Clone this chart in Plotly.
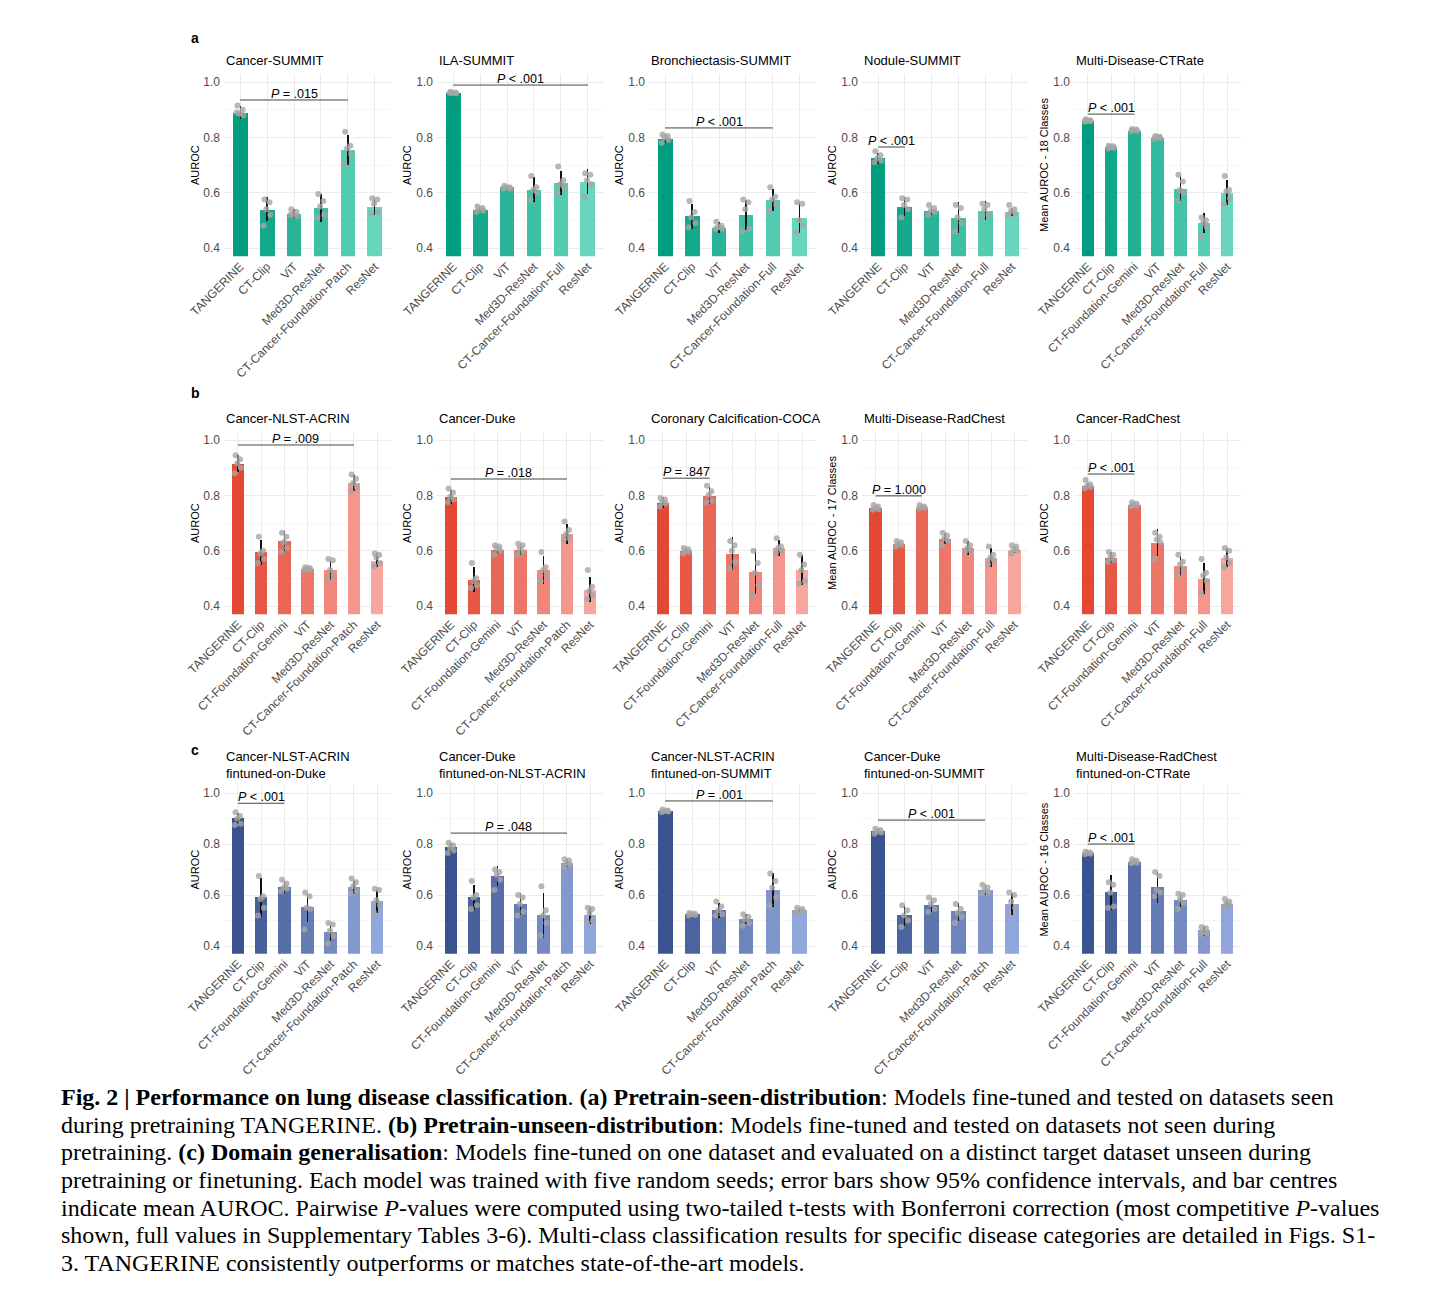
import plotly.graph_objects as go

# ---------------- model sets (categories) ----------------
M6P = ["TANGERINE", "CT-Clip", "ViT", "Med3D-ResNet", "CT-Cancer-Foundation-Patch", "ResNet"]
M6F = ["TANGERINE", "CT-Clip", "ViT", "Med3D-ResNet", "CT-Cancer-Foundation-Full", "ResNet"]
M7P = ["TANGERINE", "CT-Clip", "CT-Foundation-Gemini", "ViT", "Med3D-ResNet", "CT-Cancer-Foundation-Patch", "ResNet"]
M7F = ["TANGERINE", "CT-Clip", "CT-Foundation-Gemini", "ViT", "Med3D-ResNet", "CT-Cancer-Foundation-Full", "ResNet"]

# ---------------- titles / p-values ----------------
TITLES = [
    "Cancer-SUMMIT", "ILA-SUMMIT", "Bronchiectasis-SUMMIT", "Nodule-SUMMIT", "Multi-Disease-CTRate",
    "Cancer-NLST-ACRIN", "Cancer-Duke", "Coronary Calcification-COCA", "Multi-Disease-RadChest", "Cancer-RadChest",
    "Cancer-NLST-ACRIN<br>fintuned-on-Duke", "Cancer-Duke<br>fintuned-on-NLST-ACRIN",
    "Cancer-NLST-ACRIN<br>fintuned-on-SUMMIT", "Cancer-Duke<br>fintuned-on-SUMMIT",
    "Multi-Disease-RadChest<br>fintuned-on-CTRate",
]
YTITLES = ["AUROC", "AUROC", "AUROC", "AUROC", "Mean AUROC - 18 Classes",
           "AUROC", "AUROC", "AUROC", "Mean AUROC - 17 Classes", "AUROC",
           "AUROC", "AUROC", "AUROC", "AUROC", "Mean AUROC - 16 Classes"]
P_LABELS = ["= .015", "< .001", "< .001", "< .001", "< .001",
            "= .009", "= .018", "= .847", "= 1.000", "< .001",
            "< .001", "= .048", "= .001", "< .001", "< .001"]
P_TARGET = ["CT-Cancer-Foundation-Patch", "ResNet", "CT-Cancer-Foundation-Full", "CT-Clip", "CT-Foundation-Gemini",
            "CT-Cancer-Foundation-Patch", "CT-Cancer-Foundation-Patch", "CT-Foundation-Gemini", "CT-Foundation-Gemini", "CT-Foundation-Gemini",
            "CT-Foundation-Gemini", "CT-Cancer-Foundation-Patch", "CT-Cancer-Foundation-Patch", "CT-Cancer-Foundation-Patch", "CT-Foundation-Gemini"]
P_LEVEL = [0.935, 0.989, 0.834, 0.765, 0.884,
           0.982, 0.859, 0.862, 0.798, 0.877,
           0.960, 0.843, 0.969, 0.894, 0.800]

# ---------------- row a ----------------
MEAN_A1 = [0.89, 0.54, 0.525, 0.545, 0.755, 0.55]
CI_A1 = [0.022, 0.043, 0.015, 0.05, 0.055, 0.03]
SEEDS_A1 = [[0.915, 0.90, 0.885, 0.88, 0.89], [0.575, 0.565, 0.54, 0.52, 0.48], [0.54, 0.53, 0.52, 0.515, 0.52],
            [0.595, 0.57, 0.55, 0.52, 0.51], [0.82, 0.77, 0.76, 0.74, 0.705], [0.58, 0.575, 0.56, 0.53, 0.525]]

MEAN_A2 = [0.96, 0.54, 0.62, 0.61, 0.635, 0.64]
CI_A2 = [0.005, 0.01, 0.005, 0.045, 0.045, 0.045]
SEEDS_A2 = [[0.965, 0.962, 0.96, 0.958, 0.96], [0.55, 0.545, 0.54, 0.535, 0.53], [0.625, 0.62, 0.62, 0.615, 0.615],
            [0.66, 0.62, 0.61, 0.60, 0.575], [0.695, 0.645, 0.63, 0.62, 0.60], [0.67, 0.665, 0.645, 0.63, 0.585]]

MEAN_A3 = [0.795, 0.515, 0.475, 0.52, 0.575, 0.51]
CI_A3 = [0.015, 0.045, 0.02, 0.055, 0.04, 0.055]
SEEDS_A3 = [[0.81, 0.805, 0.80, 0.79, 0.78], [0.57, 0.53, 0.51, 0.49, 0.475], [0.495, 0.48, 0.475, 0.47, 0.47],
            [0.575, 0.565, 0.54, 0.47, 0.46], [0.62, 0.585, 0.575, 0.555, 0.535], [0.565, 0.56, 0.50, 0.48, 0.455]]

MEAN_A4 = [0.725, 0.55, 0.535, 0.51, 0.535, 0.53]
CI_A4 = [0.02, 0.035, 0.015, 0.055, 0.035, 0.015]
SEEDS_A4 = [[0.75, 0.735, 0.725, 0.715, 0.71], [0.58, 0.575, 0.555, 0.54, 0.51], [0.555, 0.545, 0.535, 0.53, 0.52],
            [0.555, 0.545, 0.51, 0.49, 0.46], [0.56, 0.555, 0.54, 0.52, 0.51], [0.555, 0.54, 0.535, 0.525, 0.52]]

MEAN_A5 = [0.86, 0.765, 0.825, 0.80, 0.615, 0.49, 0.60]
CI_A5 = [0.005, 0.005, 0.004, 0.005, 0.045, 0.035, 0.045]
SEEDS_A5 = [[0.865, 0.862, 0.86, 0.858, 0.856], [0.77, 0.768, 0.765, 0.762, 0.76], [0.83, 0.828, 0.826, 0.824, 0.822],
            [0.805, 0.802, 0.80, 0.798, 0.795], [0.665, 0.64, 0.61, 0.60, 0.57], [0.51, 0.50, 0.49, 0.475, 0.44],
            [0.66, 0.61, 0.605, 0.58, 0.56]]

# ---------------- row b ----------------
MEAN_B1 = [0.915, 0.595, 0.635, 0.535, 0.53, 0.845, 0.565]
CI_B1 = [0.03, 0.045, 0.035, 0.005, 0.035, 0.03, 0.025]
SEEDS_B1 = [[0.945, 0.93, 0.915, 0.90, 0.88], [0.65, 0.60, 0.59, 0.57, 0.555], [0.665, 0.65, 0.63, 0.61, 0.595],
            [0.54, 0.537, 0.535, 0.533, 0.53], [0.57, 0.565, 0.53, 0.51, 0.495], [0.875, 0.86, 0.845, 0.83, 0.815],
            [0.59, 0.585, 0.575, 0.555, 0.545]]

MEAN_B2 = [0.795, 0.495, 0.605, 0.605, 0.53, 0.66, 0.46]
CI_B2 = [0.025, 0.045, 0.015, 0.02, 0.05, 0.035, 0.045]
SEEDS_B2 = [[0.825, 0.81, 0.795, 0.785, 0.775], [0.555, 0.50, 0.49, 0.475, 0.465], [0.62, 0.615, 0.61, 0.60, 0.585],
            [0.625, 0.62, 0.61, 0.595, 0.585], [0.595, 0.54, 0.53, 0.51, 0.49], [0.705, 0.675, 0.66, 0.645, 0.64],
            [0.53, 0.47, 0.455, 0.44, 0.425]]

MEAN_B3 = [0.775, 0.60, 0.80, 0.59, 0.525, 0.61, 0.53]
CI_B3 = [0.02, 0.01, 0.03, 0.06, 0.08, 0.03, 0.055]
SEEDS_B3 = [[0.79, 0.785, 0.775, 0.77, 0.76], [0.61, 0.605, 0.60, 0.595, 0.59], [0.835, 0.815, 0.80, 0.78, 0.775],
            [0.635, 0.62, 0.60, 0.56, 0.535], [0.60, 0.555, 0.52, 0.475, 0.44], [0.645, 0.615, 0.61, 0.60, 0.59],
            [0.585, 0.55, 0.53, 0.49, 0.48]]

MEAN_B4 = [0.755, 0.625, 0.755, 0.645, 0.61, 0.575, 0.605]
CI_B4 = [0.008, 0.008, 0.005, 0.02, 0.025, 0.035, 0.015]
SEEDS_B4 = [[0.765, 0.76, 0.755, 0.75, 0.748], [0.635, 0.63, 0.625, 0.62, 0.615], [0.765, 0.76, 0.757, 0.755, 0.752],
            [0.665, 0.655, 0.645, 0.635, 0.62], [0.635, 0.62, 0.61, 0.60, 0.595], [0.615, 0.585, 0.575, 0.565, 0.55],
            [0.62, 0.615, 0.605, 0.60, 0.59]]

MEAN_B5 = [0.835, 0.575, 0.765, 0.63, 0.545, 0.50, 0.575]
CI_B5 = [0.01, 0.02, 0.005, 0.05, 0.035, 0.055, 0.035]
SEEDS_B5 = [[0.855, 0.84, 0.835, 0.83, 0.825], [0.595, 0.585, 0.575, 0.565, 0.56], [0.775, 0.77, 0.765, 0.762, 0.76],
            [0.665, 0.65, 0.64, 0.63, 0.57], [0.585, 0.56, 0.55, 0.53, 0.51], [0.57, 0.52, 0.51, 0.49, 0.45],
            [0.61, 0.60, 0.575, 0.555, 0.54]]

# ---------------- row c ----------------
MEAN_C1 = [0.90, 0.59, 0.63, 0.55, 0.455, 0.63, 0.575]
CI_C1 = [0.02, 0.075, 0.02, 0.055, 0.035, 0.025, 0.045]
SEEDS_C1 = [[0.925, 0.91, 0.90, 0.88, 0.875], [0.675, 0.595, 0.585, 0.55, 0.52], [0.66, 0.645, 0.63, 0.625, 0.615],
            [0.61, 0.595, 0.55, 0.545, 0.465], [0.49, 0.485, 0.46, 0.44, 0.41], [0.665, 0.65, 0.635, 0.615, 0.605],
            [0.625, 0.62, 0.58, 0.56, 0.53]]

MEAN_C2 = [0.785, 0.59, 0.675, 0.565, 0.52, 0.725, 0.52]
CI_C2 = [0.02, 0.05, 0.04, 0.045, 0.09, 0.015, 0.035]
SEEDS_C2 = [[0.805, 0.795, 0.785, 0.775, 0.765], [0.655, 0.60, 0.59, 0.56, 0.545], [0.70, 0.69, 0.68, 0.66, 0.62],
            [0.60, 0.59, 0.565, 0.535, 0.52], [0.635, 0.54, 0.52, 0.49, 0.44], [0.74, 0.735, 0.725, 0.72, 0.71],
            [0.55, 0.545, 0.53, 0.50, 0.49]]

MEAN_C3 = [0.93, 0.525, 0.54, 0.505, 0.62, 0.54]
CI_C3 = [0.005, 0.005, 0.03, 0.02, 0.065, 0.01]
SEEDS_C3 = [[0.935, 0.932, 0.93, 0.928, 0.925], [0.53, 0.528, 0.525, 0.522, 0.52], [0.575, 0.555, 0.54, 0.525, 0.52],
            [0.525, 0.515, 0.505, 0.49, 0.48], [0.685, 0.655, 0.63, 0.59, 0.56], [0.55, 0.545, 0.54, 0.535, 0.53]]

MEAN_C4 = [0.85, 0.52, 0.56, 0.535, 0.62, 0.565]
CI_C4 = [0.01, 0.04, 0.025, 0.035, 0.02, 0.045]
SEEDS_C4 = [[0.86, 0.855, 0.85, 0.845, 0.84], [0.56, 0.54, 0.52, 0.50, 0.475], [0.59, 0.58, 0.565, 0.545, 0.535],
            [0.565, 0.545, 0.53, 0.515, 0.49], [0.64, 0.63, 0.62, 0.61, 0.605], [0.61, 0.60, 0.575, 0.55, 0.53]]

MEAN_C5 = [0.765, 0.61, 0.73, 0.63, 0.58, 0.46, 0.565]
CI_C5 = [0.005, 0.07, 0.005, 0.06, 0.025, 0.02, 0.01]
SEEDS_C5 = [[0.77, 0.767, 0.765, 0.762, 0.76], [0.65, 0.64, 0.61, 0.555, 0.55], [0.74, 0.735, 0.73, 0.727, 0.725],
            [0.69, 0.675, 0.62, 0.61, 0.595], [0.605, 0.60, 0.585, 0.57, 0.545], [0.475, 0.47, 0.455, 0.45, 0.445],
            [0.585, 0.575, 0.565, 0.56, 0.555]]

CAPTION = [
    "<b>Fig. 2 | Performance on lung disease classification</b>. <b>(a) Pretrain-seen-distribution</b>: Models fine-tuned and tested on datasets seen",
    "during pretraining TANGERINE. <b>(b) Pretrain-unseen-distribution</b>: Models fine-tuned and tested on datasets not seen during",
    "pretraining. <b>(c) Domain generalisation</b>: Models fine-tuned on one dataset and evaluated on a distinct target dataset unseen during",
    "pretraining or finetuning. Each model was trained with five random seeds; error bars show 95% confidence intervals, and bar centres",
    "indicate mean AUROC. Pairwise <i>P</i>-values were computed using two-tailed t-tests with Bonferroni correction (most competitive <i>P</i>-values",
    "shown, full values in Supplementary Tables 3-6). Multi-class classification results for specific disease categories are detailed in Figs. S1-",
    "3. TANGERINE consistently outperforms or matches state-of-the-art models.",
]

PANELS = [
    (M6P, MEAN_A1, CI_A1, SEEDS_A1), (M6F, MEAN_A2, CI_A2, SEEDS_A2), (M6F, MEAN_A3, CI_A3, SEEDS_A3),
    (M6F, MEAN_A4, CI_A4, SEEDS_A4), (M7F, MEAN_A5, CI_A5, SEEDS_A5),
    (M7P, MEAN_B1, CI_B1, SEEDS_B1), (M7P, MEAN_B2, CI_B2, SEEDS_B2), (M7F, MEAN_B3, CI_B3, SEEDS_B3),
    (M7F, MEAN_B4, CI_B4, SEEDS_B4), (M7F, MEAN_B5, CI_B5, SEEDS_B5),
    (M7P, MEAN_C1, CI_C1, SEEDS_C1), (M7P, MEAN_C2, CI_C2, SEEDS_C2), (M6P, MEAN_C3, CI_C3, SEEDS_C3),
    (M6P, MEAN_C4, CI_C4, SEEDS_C4), (M7F, MEAN_C5, CI_C5, SEEDS_C5),
]

# ---------------- layout geometry (pixels in the page) ----------------
W, H, OFF = 1427, 1293, 8


def fx(p):
    return (p - OFF) / W


def fy(p):
    return 1 - (p - OFF) / H


COL_X = [(224, 391), (437, 604), (649, 816), (862, 1028), (1074, 1241)]
ROW_Y = [(73.7, 256.3), (431.7, 614.3), (785.4, 953.7)]
TITLE_Y = [60, 418, 765]
YTITLE_X = [195, 407, 619, 832, 1044]
LETTERS = [("a", 38), ("b", 393), ("c", 750)]
JITTER = [-0.10, 0.09, -0.03, 0.12, -0.13]

PALETTES = [((0, 158, 127), (104, 214, 188)),
            ((226, 72, 50), (247, 166, 158)),
            ((58, 82, 143), (145, 166, 218))]


def grad(c0, c1, n):
    out = []
    for i in range(n):
        t = i / (n - 1)
        out.append("rgb(%d,%d,%d)" % tuple(round(a + (b - a) * t) for a, b in zip(c0, c1)))
    return out


SANS = "Liberation Sans, Arial, sans-serif"
fig = go.Figure()
annotations = []
shapes = []

for k, (models, means, cis, seeds) in enumerate(PANELS):
    r, c = divmod(k, 5)
    ax = "" if k == 0 else str(k + 1)
    xref, yref = "x" + ax, "y" + ax
    n = len(models)
    idx = list(range(n))
    colors = grad(*PALETTES[r], n)

    fig.add_trace(go.Bar(
        x=idx, y=means, width=0.55, marker=dict(color=colors, line=dict(width=0)),
        error_y=dict(type="data", array=cis, visible=True, thickness=1.3, width=0, color="#111111"),
        xaxis=xref, yaxis=yref, showlegend=False, hoverinfo="skip"))

    px_, py_ = [], []
    for i, pts in enumerate(seeds):
        for j, v in enumerate(pts):
            px_.append(i + JITTER[j % len(JITTER)])
            py_.append(v)
    fig.add_trace(go.Scatter(
        x=px_, y=py_, mode="markers",
        marker=dict(size=6, color="rgba(165,165,165,0.8)", line=dict(width=0)),
        xaxis=xref, yaxis=yref, showlegend=False, hoverinfo="skip"))

    x0, x1 = COL_X[c]
    y0, y1 = ROW_Y[r]
    axis_x = dict(domain=[fx(x0), fx(x1)], anchor=yref, range=[-0.6, n - 0.4], automargin=False,
                  tickmode="array", tickvals=idx, ticktext=models, tickangle=-45,
                  tickfont=dict(family=SANS, size=12, color="#4D4D4D"),
                  showgrid=True, gridcolor="#EBEBEB", gridwidth=1, zeroline=False,
                  showline=False, ticks="", fixedrange=True)
    axis_y = dict(domain=[fy(y1), fy(y0)], anchor=xref, range=[0.37, 1.03], automargin=False,
                  tickmode="array", tickvals=[0.4, 0.6, 0.8, 1.0], ticktext=["0.4", "0.6", "0.8", "1.0"],
                  tickfont=dict(family=SANS, size=12, color="#4D4D4D"),
                  showgrid=True, gridcolor="#EBEBEB", gridwidth=1, zeroline=False,
                  showline=False, ticks="", ticklabelstandoff=3,
                  minor=dict(tickvals=[0.5, 0.7, 0.9], showgrid=True, gridcolor="#F5F5F5", gridwidth=1),
                  fixedrange=True)
    fig.layout["xaxis" + ax] = axis_x
    fig.layout["yaxis" + ax] = axis_y

    # title
    annotations.append(dict(xref="paper", yref="paper", x=fx(x0), y=fy(TITLE_Y[r]), xanchor="left",
                            yanchor="middle", text=TITLES[k], showarrow=False, align="left",
                            font=dict(family=SANS, size=13, color="black")))
    # y title
    annotations.append(dict(xref="paper", yref="paper", x=fx(YTITLE_X[c]), y=fy((y0 + y1) / 2),
                            xanchor="center", yanchor="middle", text=YTITLES[k], textangle=-90,
                            showarrow=False, font=dict(family=SANS, size=11, color="black")))
    # p-value bracket
    tgt = models.index(P_TARGET[k])
    lvl = P_LEVEL[k]
    shapes.append(dict(type="line", xref=xref, yref=yref, x0=0, x1=tgt, y0=lvl, y1=lvl,
                       line=dict(color="#444444", width=1)))
    annotations.append(dict(xref=xref, yref=yref, x=tgt / 2, y=lvl, xanchor="center", yanchor="bottom",
                            yshift=-3, text="<i>P</i> " + P_LABELS[k], showarrow=False,
                            font=dict(family=SANS, size=12.5, color="black")))

for letter, ypx in LETTERS:
    annotations.append(dict(xref="paper", yref="paper", x=fx(189), y=fy(ypx), xanchor="left",
                            yanchor="middle", text="<b>%s</b>" % letter, showarrow=False,
                            font=dict(family=SANS, size=14, color="black")))

CAP_Y = [1097, 1125, 1152, 1180, 1208, 1235, 1263]
for line, ypx in zip(CAPTION, CAP_Y):
    annotations.append(dict(xref="paper", yref="paper", x=fx(59), y=fy(ypx), xanchor="left",
                            yanchor="middle", text=line, showarrow=False, align="left",
                            font=dict(family="Liberation Serif, Times New Roman, serif", size=24, color="black")))

fig.update_layout(width=W, height=H, margin=dict(l=0, r=0, t=0, b=0, autoexpand=False),
                  paper_bgcolor="white", plot_bgcolor="white",
                  annotations=annotations, shapes=shapes, bargap=0, showlegend=False)

fig.write_html("out.html")
